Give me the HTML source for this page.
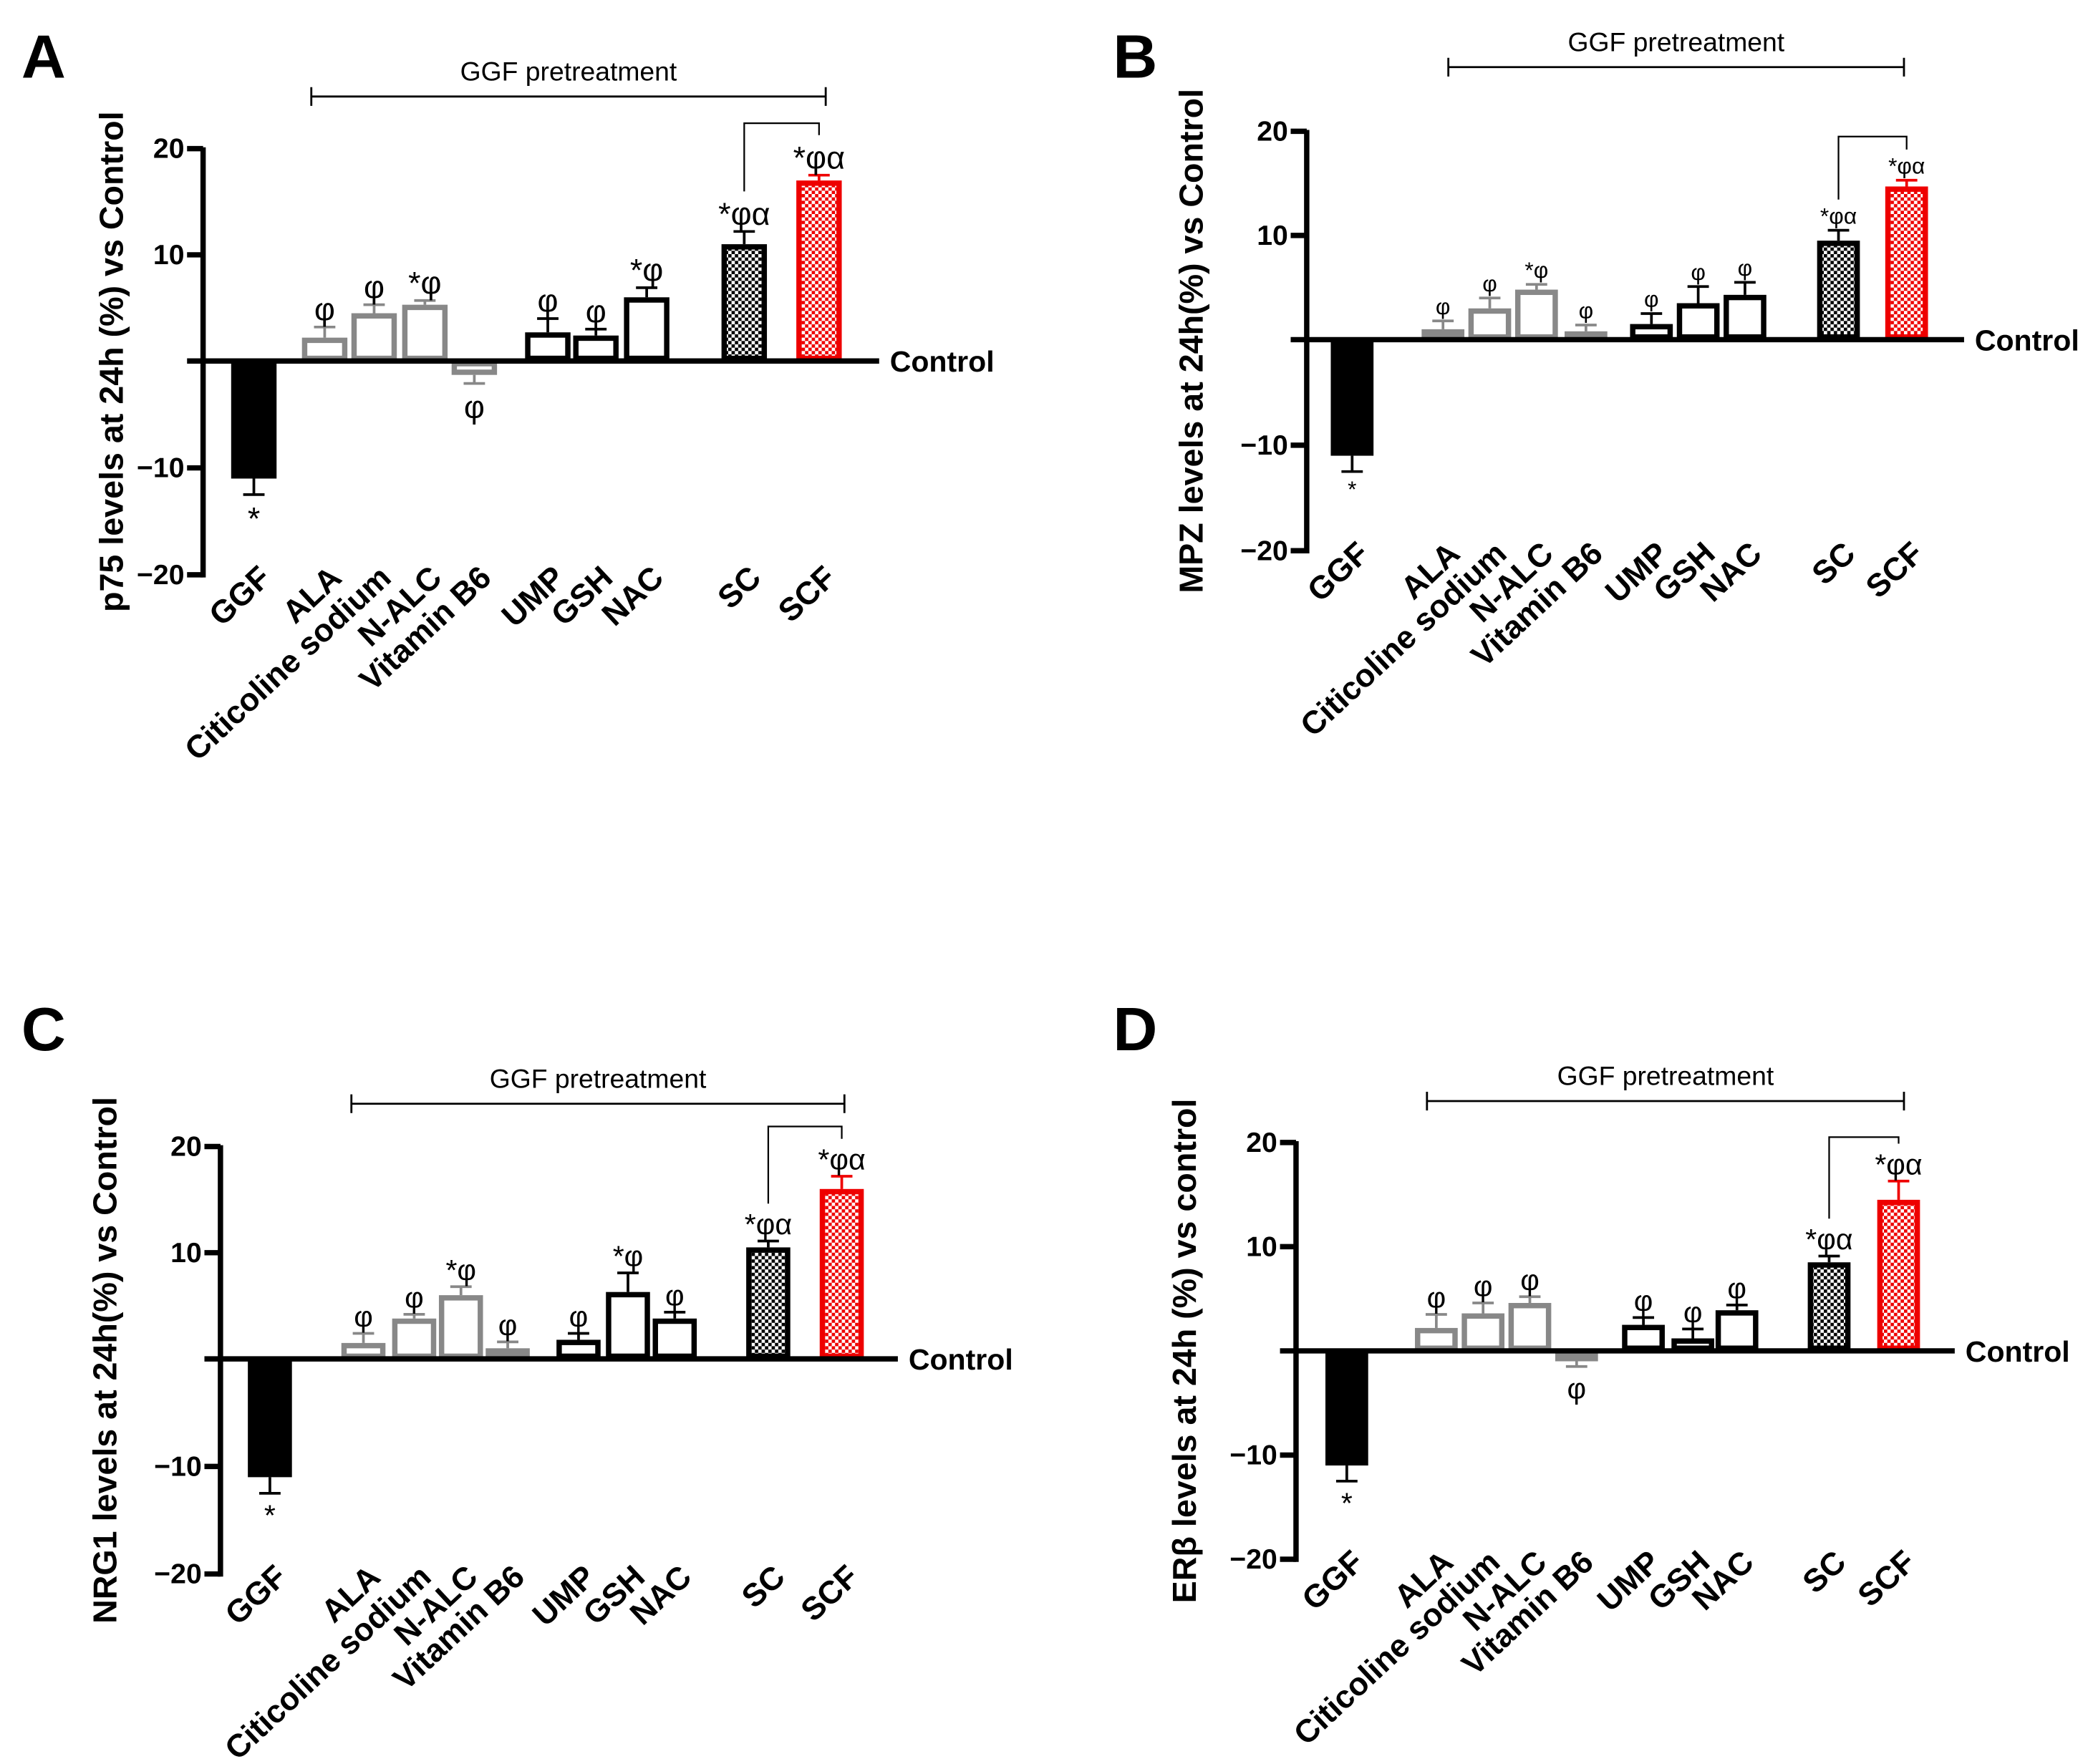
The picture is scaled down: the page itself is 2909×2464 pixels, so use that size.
<!DOCTYPE html>
<html><head><meta charset="utf-8"><style>
html,body{margin:0;padding:0;background:#fff;}
svg{display:block;font-family:"Liberation Sans",Arial,sans-serif;}
</style></head><body>
<svg id="fig" width="2909" height="2464" viewBox="0 0 1559 1320" xmlns="http://www.w3.org/2000/svg">
<defs>
<pattern id="chkB" width="5" height="5" patternUnits="userSpaceOnUse"><rect width="5" height="5" fill="#fff"/><rect width="2.5" height="2.5" fill="#000"/><rect x="2.5" y="2.5" width="2.5" height="2.5" fill="#000"/></pattern>
<pattern id="chkR" width="5" height="5" patternUnits="userSpaceOnUse"><rect width="5" height="5" fill="#fff"/><rect width="2.5" height="2.5" fill="#e00"/><rect x="2.5" y="2.5" width="2.5" height="2.5" fill="#e00"/></pattern>
</defs>
</svg>
<script>
const categories=["GGF","ALA","Citicoline sodium","N-ALC","Vitamin B6","UMP","GSH","NAC","SC","SCF"];
const tickValues=[20,10,-10,-20];
const tickLabels=["20","10","\u221210","\u221220"];
const valuesA=[-11,2.2,4.5,5.3,-1.3,2.7,2.4,6,11,17];
const errorsA=[1.5,1,0.8,0.4,0.8,1.3,0.6,0.9,1.2,0.5];
const notesA=["*","\u03c6","\u03c6","*\u03c6","\u03c6","\u03c6","\u03c6","*\u03c6","*\u03c6\u03b1","*\u03c6\u03b1"];
const valuesB=[-11,1,3,4.8,0.8,1.5,3.5,4.3,9.5,14.7];
const errorsB=[1.5,0.8,1,0.5,0.6,1,1.6,1.2,1,0.6];
const notesB=["*","\u03c6","\u03c6","*\u03c6","\u03c6","\u03c6","\u03c6","\u03c6","*\u03c6\u03b1","*\u03c6\u03b1"];
const valuesC=[-11,1.5,3.8,6,1,1.8,6.3,3.8,10.5,16];
const errorsC=[1.5,0.9,0.4,0.8,0.6,0.6,1.8,0.6,0.6,1.2];
const notesC=["*","\u03c6","\u03c6","*\u03c6","\u03c6","\u03c6","*\u03c6","\u03c6","*\u03c6\u03b1","*\u03c6\u03b1"];
const valuesD=[-11,2.2,3.6,4.6,-1,2.5,1.2,3.9,8.5,14.5];
const errorsD=[1.5,1.3,1,0.6,0.5,0.7,0.9,0.5,0.6,1.8];
const notesD=["*","\u03c6","\u03c6","\u03c6","\u03c6","\u03c6","\u03c6","\u03c6","*\u03c6\u03b1","*\u03c6\u03b1"];

const panels=[
 {id:"a",letter:"A",lx:16,ly:58,ax:152,y20:111,y0:270,ym20:430,zx:658,cx:[190,243,280,318,355,410,446,484,557,613],bw:34,br:[233,618,72],sb:92,ylab:"p75 levels at 24h (%) vs Control",ylx:92,fs:24,v:valuesA,e:errorsA,n:notesA},
 {id:"b",letter:"B",lx:833,ly:58,ax:978,y20:98,y0:254,ym20:412,zx:1470,cx:[1012,1080,1115,1150,1187,1236,1271,1306,1376,1427],bw:32,br:[1084,1425,50],sb:102,ylab:"MPZ levels at 24h(%) vs Control",ylx:900,fs:17,v:valuesB,e:errorsB,n:notesB},
 {id:"c",letter:"C",lx:16,ly:786,ax:165,y20:858,y0:1017,ym20:1178,zx:672,cx:[202,272,310,345,380,433,470,505,575,630],bw:33,br:[263,632,826],sb:843,ylab:"NRG1 levels at 24h(%) vs Control",ylx:87,fs:22,v:valuesC,e:errorsC,n:notesC},
 {id:"d",letter:"D",lx:833,ly:786,ax:970,y20:855,y0:1011,ym20:1167,zx:1463,cx:[1008,1075,1110,1145,1180,1230,1267,1300,1369,1421],bw:32,br:[1068,1425,824],sb:851,ylab:"ER\u03b2 levels at 24h (%) vs control",ylx:895,fs:22,v:valuesD,e:errorsD,n:notesD}
];
const NS="http://www.w3.org/2000/svg";
const svg=document.getElementById("fig");
function mk(tag,attrs,parent){const el=document.createElementNS(NS,tag);for(const k in attrs)el.setAttribute(k,attrs[k]);(parent||svg).appendChild(el);return el;}
panels.forEach(p=>{
 const g=mk("g",{});
 
 
 const Y=v=>v>=0?p.y0-(v/20)*(p.y0-p.y20):p.y0+(-v/20)*(p.ym20-p.y0);
 const L=mk("text",{x:p.lx,y:p.ly,"font-size":46,"font-weight":"bold"},g);L.textContent=p.letter;
 
 
 const ax=mk("line",{x1:p.ax,y1:p.y20-1,x2:p.ax,y2:p.ym20+2,stroke:"#000","stroke-width":4},g);
 
 
 tickValues.forEach((t,i)=>{
  mk("line",{x1:p.ax-12,y1:Y(t),x2:p.ax,y2:Y(t),stroke:"#000","stroke-width":4},g);
  const tl=mk("text",{x:p.ax-14,y:Y(t)+7,"font-size":21,"font-weight":"bold","text-anchor":"end"},g);tl.textContent=tickLabels[i];
  
  
 });
 const yl=mk("text",{x:0,y:0,"font-size":25,"font-weight":"bold","text-anchor":"middle",transform:`translate(${p.ylx},${(p.y20+p.ym20)/2}) rotate(-90)`},g);yl.textContent=p.ylab;
 
 
 p.v.forEach((v,i)=>{
  const cx=p.cx[i],w=p.bw,top=Math.min(Y(v),p.y0),h=Math.abs(Y(v)-p.y0);
  let fill="#fff",stroke="#000";
  if(i===0)fill="#000";else if(i<=4)stroke="#888";else if(i===8)fill="url(#chkB)";else if(i===9){fill="url(#chkR)";stroke="#e00";}
  const ec=i===9?"#e00":(i>=1&&i<=4?"#888":"#000");
  const ey=v>=0?Y(v+p.e[i]):Y(v-p.e[i]);
  mk("line",{x1:cx,y1:Y(v),x2:cx,y2:ey,stroke:ec,"stroke-width":2},g);
  mk("line",{x1:cx-8,y1:ey,x2:cx+8,y2:ey,stroke:ec,"stroke-width":2},g);
  const b=mk("rect",{x:cx-w/2+2,y:top+2,width:w-4,height:Math.max(h-4,1),fill:fill,stroke:stroke,"stroke-width":4},g);
  
  
  const nt=mk("text",{x:cx,y:v>=0?ey-5:ey+p.fs+2,"font-size":p.fs,"text-anchor":"middle"},g);nt.textContent=p.n[i];
  
  
  const cl=mk("text",{x:0,y:0,"font-size":24,"font-weight":"bold","text-anchor":"end",transform:`translate(${cx+14},${p.ym20+4}) rotate(-43)`},g);cl.textContent=categories[i];
  
  
 });
 const zl=mk("line",{x1:p.ax-12,y1:p.y0,x2:p.zx,y2:p.y0,stroke:"#000","stroke-width":4},g);
 
 
 const ct=mk("text",{x:p.zx+8,y:p.y0+8,"font-size":22,"font-weight":"bold"},g);ct.textContent="Control";
 
 
 const [b1,b2,by]=p.br;
 mk("path",{d:`M${b1},${by-7}V${by+7}M${b1},${by}H${b2}M${b2},${by-7}V${by+7}`,stroke:"#000","stroke-width":1.5,fill:"none"},g);
 const bt=mk("text",{x:(b1+b2)/2,y:by-12,"font-size":20,"text-anchor":"middle"},g);bt.textContent="GGF pretreatment";
 
 
 const sc=p.cx[8],sf=p.cx[9];
 const scTop=Y(p.v[8]+p.e[8])-p.fs-6,sfTop=Y(p.v[9]+p.e[9])-p.fs-6;
 mk("path",{d:`M${sc},${scTop}V${p.sb}H${sf}V${sfTop}`,stroke:"#000","stroke-width":1.2,fill:"none"},g);
});
</script>
</body></html>
